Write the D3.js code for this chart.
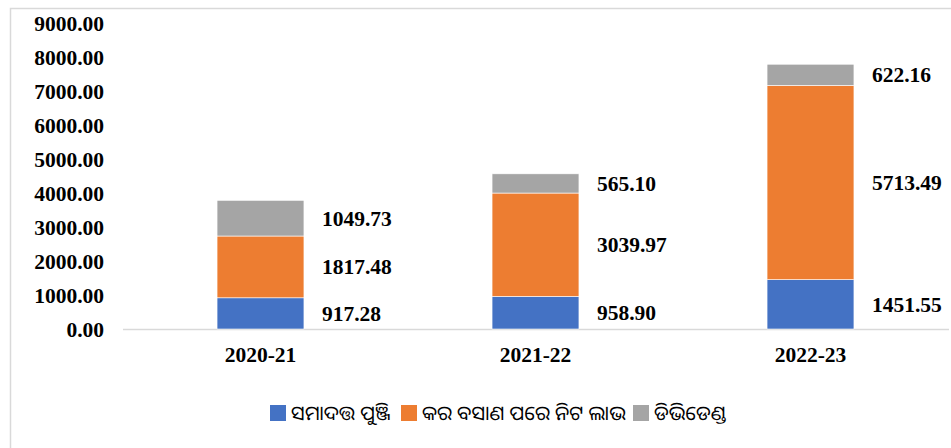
<!DOCTYPE html>
<html>
<head>
<meta charset="utf-8">
<script src="https://cdn.jsdelivr.net/npm/d3@7"></script>
<style>
  body { margin: 0; background: #fff; }
  text { font-family: "Liberation Serif", "Times New Roman", serif; font-weight: bold; fill: #000; }
  .legend text { font-family: "Noto Sans", "Noto Sans Oriya", sans-serif; font-weight: normal; }
</style>
</head>
<body>
<div id="root"></div>
<script>
const width = 951;
const height = 448;

// Data
const years = ["2020-21", "2021-22", "2022-23"];
const capital = [917.28, 958.9, 1451.55];
const netProfit = [1817.48, 3039.97, 5713.49];
const dividend = [1049.73, 565.1, 622.16];
const seriesNames = ["ସମାଦତ୍ତ ପୁଞ୍ଜି", "କର ବସାଣ ପରେ ନିଟ ଲାଭ", "ଡିଭିଡେଣ୍ଡ"];
const yTicks = [0, 1000, 2000, 3000, 4000, 5000, 6000, 7000, 8000, 9000];

const colors = ["#4472C4", "#ED7D31", "#A5A5A5"];

const rows = years.map((y, i) => ({
  year: y,
  s0: capital[i],
  s1: netProfit[i],
  s2: dividend[i],
}));
const keys = ["s0", "s1", "s2"];
const stacked = d3.stack().keys(keys)(rows);

const svg = d3
  .select("#root")
  .append("svg")
  .attr("width", width)
  .attr("height", height);

// chart frame (left + top border)
svg.append("path")
  .attr("d", `M10.5,${height} V8.5 H${width}`)
  .attr("fill", "none")
  .attr("stroke", "#d9d9d9")
  .attr("stroke-width", 1.5);

const x = d3.scaleBand().domain(years).range([123, 948]).paddingInner(0.684).paddingOuter(0.342);
const y = d3.scaleLinear().domain([0, 9000]).range([329, 23]);

// Y axis labels
const yAxis = svg.append("g")
  .attr("transform", "translate(104,0)")
  .call(d3.axisLeft(y).tickValues(yTicks).tickFormat(d3.format(".2f")).tickSize(0).tickPadding(0));
yAxis.select(".domain").remove();
yAxis.selectAll("text")
  .attr("font-size", 21.5)
  .attr("font-family", null)
  .attr("dy", "0.35em");

// baseline
svg.append("line")
  .attr("x1", 123).attr("x2", 949)
  .attr("y1", y(0) + 0.5).attr("y2", y(0) + 0.5)
  .attr("stroke", "#d9d9d9")
  .attr("stroke-width", 1.5);

// Bars
const layer = svg.selectAll("g.layer")
  .data(stacked)
  .enter()
  .append("g")
  .attr("class", "layer")
  .attr("fill", (d, i) => colors[i]);

layer.selectAll("rect")
  .data((d) => d)
  .enter()
  .append("rect")
  .attr("x", (d) => x(d.data.year))
  .attr("y", (d) => y(d[1]))
  .attr("width", x.bandwidth())
  .attr("height", (d) => y(d[0]) - y(d[1]))
  .attr("stroke", "#fff")
  .attr("stroke-width", 0.6);

// Value labels
layer.selectAll("text")
  .data((d) => d)
  .enter()
  .append("text")
  .attr("x", (d) => x(d.data.year) + x.bandwidth() + 18)
  .attr("y", (d) => (y(d[0]) + y(d[1])) / 2)
  .attr("dy", "0.35em")
  .attr("font-size", 21.5)
  .text((d) => d3.format(".2f")(d[1] - d[0]));

// X labels
const xAxis = svg.append("g")
  .attr("transform", `translate(0,${y(0)})`)
  .call(d3.axisBottom(x).tickSize(0).tickPadding(0));
xAxis.select(".domain").remove();
xAxis.selectAll("text")
  .attr("font-size", 21.5)
  .attr("font-family", null)
  .attr("dy", null)
  .attr("y", 33);

// Legend
const legendX = [270, 401, 633];
const legend = svg.append("g").attr("class", "legend");
seriesNames.forEach((name, i) => {
  legend.append("rect")
    .attr("x", legendX[i])
    .attr("y", 405)
    .attr("width", 16)
    .attr("height", 16)
    .attr("fill", colors[i]);
  legend.append("text")
    .attr("x", legendX[i] + 21)
    .attr("y", 413)
    .attr("dy", "0.35em")
    .attr("font-size", 20)
    .text(name);
});
</script>
</body>
</html>
